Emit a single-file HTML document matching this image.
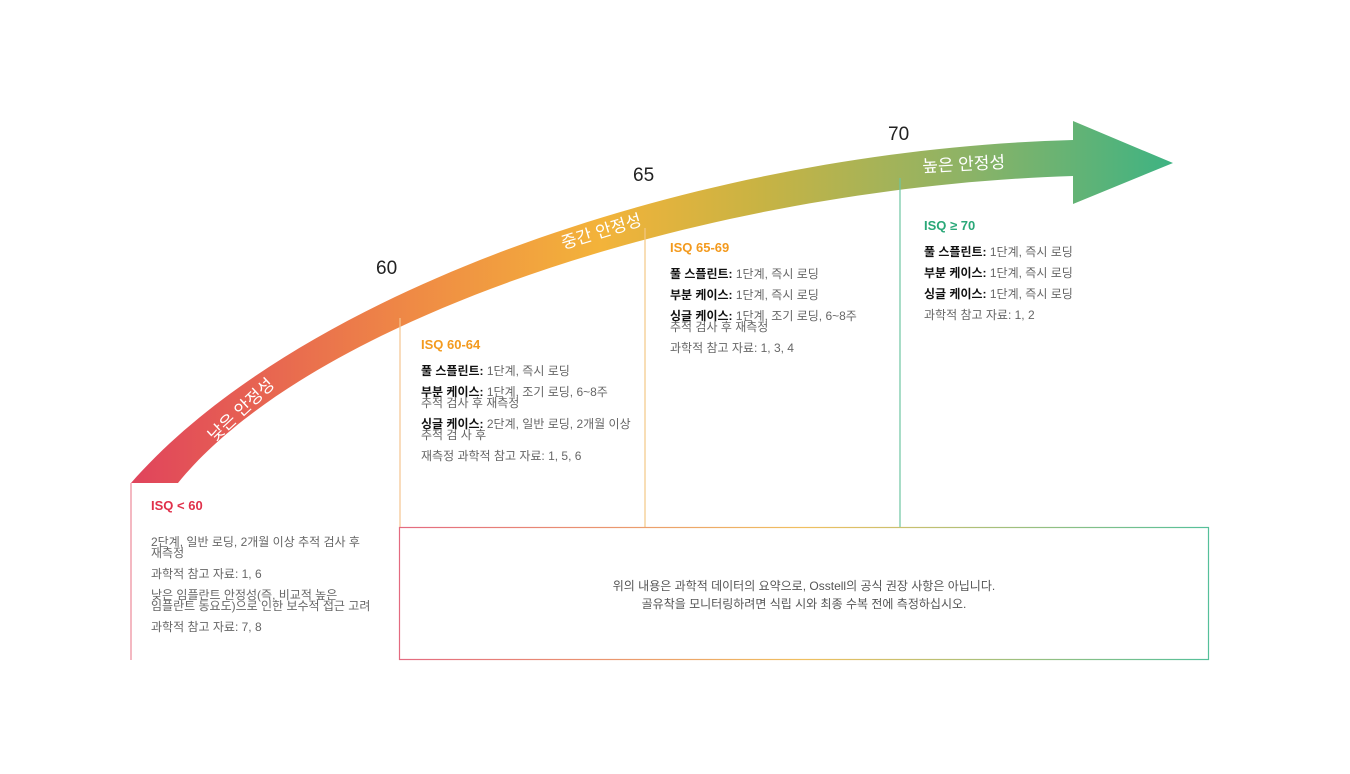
<!DOCTYPE html>
<html><head><meta charset="utf-8"><style>
body{margin:0;width:1350px;height:774px;background:#fff;position:relative;overflow:hidden;font-family:"Liberation Sans","Noto Sans CJK KR",sans-serif}
.t{position:absolute;font-size:12px;color:#666;line-height:11px;word-break:keep-all}
.t p{margin:0 0 10px 0}
.t b{color:#111}
.h{font-weight:bold;font-size:13px;margin-bottom:14px!important;line-height:14px}
.n{position:absolute;font-size:19px;color:#222}
</style></head><body>
<svg width="1350" height="774" style="position:absolute;left:0;top:0">
<defs>
<linearGradient id="g" x1="130" y1="0" x2="1175" y2="0" gradientUnits="userSpaceOnUse">
<stop offset="0" stop-color="#e0435c"/><stop offset="0.27" stop-color="#ef8a45"/><stop offset="0.45" stop-color="#f3b33a"/><stop offset="0.6" stop-color="#c9b343"/><stop offset="0.8" stop-color="#8db366"/><stop offset="1" stop-color="#3db383"/>
</linearGradient>
<linearGradient id="b" x1="399" y1="0" x2="1209" y2="0" gradientUnits="userSpaceOnUse">
<stop offset="0" stop-color="#e46a80"/><stop offset="0.5" stop-color="#f0c060"/><stop offset="1" stop-color="#55c09a"/>
</linearGradient>
</defs>
<path d="M131,483 C300,290 700,150 1073,140 L1073,121 L1173,163 L1073,204 L1073,176 C700,188 310,320 178,483 Z" fill="url(#g)"/>
<line x1="131" y1="483" x2="131" y2="660" stroke="#ec8a9a" stroke-width="1.2"/>
<line x1="400" y1="318" x2="400" y2="527" stroke="#f5c590" stroke-width="1.2"/>
<line x1="645" y1="228" x2="645" y2="527" stroke="#f3c785" stroke-width="1.2"/>
<line x1="900" y1="178" x2="900" y2="527" stroke="#6dc6a2" stroke-width="1.2"/>
<rect x="399.5" y="527.5" width="809" height="132" fill="none" stroke="url(#b)" stroke-width="1.2"/>
<text x="0" y="0" transform="translate(245,414) rotate(-43)" fill="#fff" font-size="17" text-anchor="middle" font-family="Liberation Sans,Noto Sans CJK KR,sans-serif">낮은 안정성</text>
<text x="0" y="0" transform="translate(603,237) rotate(-17)" fill="#fff" font-size="17" text-anchor="middle" font-family="Liberation Sans,Noto Sans CJK KR,sans-serif">중간 안정성</text>
<text x="0" y="0" transform="translate(964,170) rotate(-3)" fill="#fff" font-size="17" text-anchor="middle" font-family="Liberation Sans,Noto Sans CJK KR,sans-serif">높은 안정성</text>
</svg>
<div class="n" style="left:376px;top:258px">60</div>
<div class="n" style="left:633px;top:165px">65</div>
<div class="n" style="left:888px;top:124px">70</div>
<div class="t" style="left:151px;top:499px;width:232px">
<p class="h" style="color:#e0304a;margin-bottom:24px!important">ISQ &lt; 60</p>
<p>2단계, 일반 로딩, 2개월 이상 추적 검사 후 재측정</p>
<p>과학적 참고 자료: 1, 6</p>
<p>낮은 임플란트 안정성(즉, 비교적 높은 임플란트 동요도)으로 인한 보수적 접근 고려</p>
<p>과학적 참고 자료: 7, 8</p>
</div>
<div class="t" style="left:421px;top:338px;width:210px">
<p class="h" style="color:#f39a1e">ISQ 60-64</p>
<p><b>풀 스플린트:</b> 1단계, 즉시 로딩</p>
<p><b>부분 케이스:</b> 1단계, 조기 로딩, 6~8주 추적 검사 후 재측정</p>
<p><b>싱글 케이스:</b> 2단계, 일반 로딩, 2개월 이상 추적 검 사 후</p>
<p>재측정 과학적 참고 자료: 1, 5, 6</p>
</div>
<div class="t" style="left:670px;top:241px;width:200px">
<p class="h" style="color:#f39a1e">ISQ 65-69</p>
<p><b>풀 스플린트:</b> 1단계, 즉시 로딩</p>
<p><b>부분 케이스:</b> 1단계, 즉시 로딩</p>
<p><b>싱글 케이스:</b> 1단계, 조기 로딩, 6~8주 추적 검사 후 재측정</p>
<p>과학적 참고 자료: 1, 3, 4</p>
</div>
<div class="t" style="left:924px;top:219px;width:220px">
<p class="h" style="color:#2aa878">ISQ ≥ 70</p>
<p><b>풀 스플린트:</b> 1단계, 즉시 로딩</p>
<p><b>부분 케이스:</b> 1단계, 즉시 로딩</p>
<p><b>싱글 케이스:</b> 1단계, 즉시 로딩</p>
<p>과학적 참고 자료: 1, 2</p>
</div>
<div class="t" style="left:400px;top:577px;width:808px;text-align:center;line-height:18px;color:#555">위의 내용은 과학적 데이터의 요약으로, Osstell의 공식 권장 사항은 아닙니다.<br>골유착을 모니터링하려면 식립 시와 최종 수복 전에 측정하십시오.</div>
</body></html>
